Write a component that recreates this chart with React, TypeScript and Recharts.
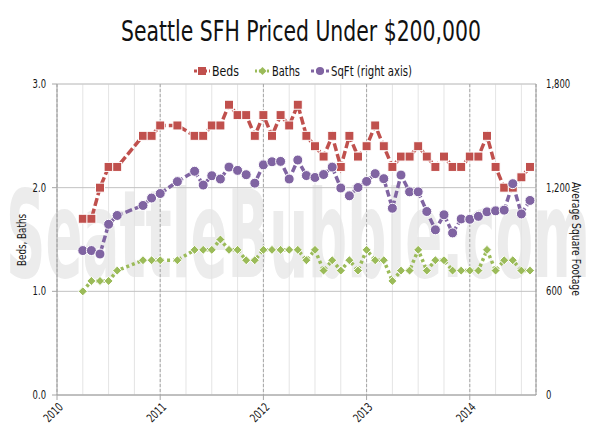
import React from 'react';
import { LineChart, Line, XAxis, YAxis, CartesianGrid } from 'recharts';

// months counted from Jan 2010 (0 = Jan 2010)
const months = [
  3, 4, 5, 6, 7, 10, 11,
  12, 14, 16, 17, 18, 19, 20, 21, 22, 23,
  24, 25, 26, 27, 28, 29, 30, 31, 32, 33, 34, 35,
  36, 37, 38, 39, 40, 41, 42, 43, 44, 45, 46, 47,
  48, 49, 50, 51, 52, 53, 54, 55,
];

const beds = [
  1.7, 1.7, 2.0, 2.2, 2.2, 2.5, 2.5,
  2.6, 2.6, 2.5, 2.5, 2.6, 2.6, 2.8, 2.7, 2.7, 2.5,
  2.7, 2.5, 2.7, 2.6, 2.8, 2.5, 2.4, 2.3, 2.5, 2.2, 2.5, 2.3,
  2.4, 2.6, 2.4, 2.2, 2.3, 2.3, 2.4, 2.3, 2.2, 2.3, 2.2, 2.2,
  2.3, 2.3, 2.5, 2.2, 2.0, 2.0, 2.1, 2.2,
];

const baths = [
  1.0, 1.1, 1.1, 1.1, 1.2, 1.3, 1.3,
  1.3, 1.3, 1.4, 1.4, 1.4, 1.5, 1.4, 1.4, 1.3, 1.3,
  1.4, 1.4, 1.4, 1.4, 1.4, 1.3, 1.4, 1.2, 1.3, 1.2, 1.3, 1.2,
  1.4, 1.3, 1.3, 1.1, 1.2, 1.2, 1.4, 1.2, 1.3, 1.3, 1.2, 1.2,
  1.2, 1.2, 1.4, 1.2, 1.3, 1.3, 1.2, 1.2,
];

const sqft = [
  836, 836, 816, 988, 1039, 1097, 1140,
  1166, 1235, 1295, 1215, 1269, 1250, 1319, 1300, 1275, 1226,
  1332, 1350, 1352, 1250, 1360, 1270, 1259, 1276, 1319, 1198, 1153, 1201,
  1236, 1281, 1252, 1081, 1273, 1176, 1176, 1062, 956, 1043, 938, 1019,
  1017, 1034, 1060, 1066, 1070, 1223, 1048, 1126,
];

const yearTicks = [0, 12, 24, 36, 48];
const quarterTicks = [0, 3, 6, 9, 12, 15, 18, 21, 24, 27, 30, 33, 36, 39, 42, 45, 48, 51, 54];
const leftTicks = [0, 1, 2, 3];
const minorTicks = [0, 0.25, 0.5, 0.75, 1, 1.25, 1.5, 1.75, 2, 2.25, 2.5, 2.75, 3];
const rightTicks = [0, 600, 1200, 1800];

const RED = '#c0504d';
const GREEN = '#9bbb59';
const PURPLE = '#8064a2';
const FONT = "'Liberation Sans Narrow', 'DejaVu Sans Condensed', 'Roboto', sans-serif";
const INK = '#161616';

const data = months.map((m, i) => ({ m, beds: beds[i], baths: baths[i], sqft: sqft[i] }));

// narrow-looking text width (the original uses a condensed face)
const narrowWidth = (s: string) =>
  s.split('').reduce((w, c) => w + (c === '.' || c === ',' ? 2.6 : 5.4), 0);

const SquareDot = (p: any) => {
  if (p.cx == null || p.cy == null) return <g key={p.key} />;
  return <rect key={p.key} x={p.cx - 4.5} y={p.cy - 4.5} width={9} height={9} fill={RED} stroke="#fff" strokeWidth={1} />;
};

const DiamondDot = (p: any) => {
  if (p.cx == null || p.cy == null) return <g key={p.key} />;
  const r = 4.5;
  return (
    <polygon
      key={p.key}
      points={`${p.cx},${p.cy - r} ${p.cx + r},${p.cy} ${p.cx},${p.cy + r} ${p.cx - r},${p.cy}`}
      fill={GREEN}
      stroke="#fff"
      strokeWidth={1}
    />
  );
};

const CircleDot = (p: any) => {
  if (p.cx == null || p.cy == null) return <g key={p.key} />;
  return <circle key={p.key} cx={p.cx} cy={p.cy} r={5} fill={PURPLE} stroke="#fff" strokeWidth={1} />;
};

const YearTick = ({ x, y, payload }: any) => {
  const label = String(2010 + payload.value / 12);
  const len = narrowWidth(label);
  const ax = x + 4;
  const ay = y + 3;
  return (
    <text
      x={ax - len}
      y={ay}
      transform={`rotate(-45, ${ax}, ${ay})`}
      textLength={len}
      lengthAdjust="spacingAndGlyphs"
      dominantBaseline="central"
      fontFamily={FONT}
      fontSize={12}
      fill={INK}
    >
      {label}
    </text>
  );
};

const LeftTick = ({ x, y, payload }: any) => {
  const label = Number(payload.value).toFixed(1);
  const len = narrowWidth(label);
  return (
    <text x={x - len} y={y} textLength={len} lengthAdjust="spacingAndGlyphs" dominantBaseline="central"
      fontFamily={FONT} fontSize={12} fill={INK}>
      {label}
    </text>
  );
};

const RightTick = ({ x, y, payload }: any) => {
  const label = Number(payload.value).toLocaleString('en-US');
  const len = narrowWidth(label);
  return (
    <text x={x} y={y} textLength={len} lengthAdjust="spacingAndGlyphs" dominantBaseline="central"
      fontFamily={FONT} fontSize={12} fill={INK}>
      {label}
    </text>
  );
};

export default function App() {
  return (
    <div style={{ position: 'absolute', left: 0, top: 0, width: 600, height: 436, background: '#fff', overflow: 'hidden' }}>
      <svg width={600} height={436} style={{ position: 'absolute', left: 0, top: 0 }}>
        <text
          x={6}
          y={277}
          textLength={584}
          lengthAdjust="spacingAndGlyphs"
          fontFamily={FONT}
          fontWeight="bold"
          fontSize={122}
          fill="#ececec"
        >
          SeattleBubble.com
        </text>
      </svg>
      <div style={{ position: 'absolute', left: 0, top: 0 }}>
        <LineChart width={600} height={436} data={data} margin={{ top: 84, right: 0, bottom: 0, left: 0 }}>
          <XAxis xAxisId="q" dataKey="m" type="number" domain={[0, 55.7]} ticks={quarterTicks} hide />
          <YAxis yAxisId="minor" type="number" domain={[0, 3]} ticks={minorTicks} hide />
          <CartesianGrid xAxisId="q" yAxisId="minor" stroke="#e4e4e4" strokeWidth={1} />
          <CartesianGrid xAxisId="main" yAxisId="left" vertical={false} stroke="#c2c2c2" strokeWidth={1} />
          <CartesianGrid xAxisId="main" yAxisId="left" horizontal={false} stroke="#a6a6a6" strokeDasharray="3 2" strokeWidth={1} />
          <XAxis
            xAxisId="main"
            dataKey="m"
            type="number"
            domain={[0, 55.7]}
            ticks={yearTicks}
            height={41}
            tickSize={5}
            tickMargin={2}
            axisLine={{ stroke: '#a6a6a6' }}
            tickLine={{ stroke: '#a6a6a6' }}
            tick={<YearTick />}
            interval={0}
          />
          <YAxis
            yAxisId="left"
            orientation="left"
            type="number"
            domain={[0, 3]}
            ticks={leftTicks}
            width={57}
            tickSize={5}
            tickMargin={6}
            axisLine={{ stroke: '#a6a6a6' }}
            tickLine={{ stroke: '#a6a6a6' }}
            tick={<LeftTick />}
            interval={0}
          />
          <YAxis
            yAxisId="right"
            orientation="right"
            type="number"
            domain={[0, 1800]}
            ticks={rightTicks}
            width={64}
            tickSize={0}
            tickMargin={10}
            axisLine={{ stroke: '#a6a6a6' }}
            tickLine={false}
            tick={<RightTick />}
            interval={0}
          />
          <Line
            xAxisId="main"
            yAxisId="left"
            dataKey="beds"
            stroke={RED}
            strokeWidth={3.5}
            strokeDasharray="8 3"
            dot={SquareDot}
            activeDot={false}
            isAnimationActive={false}
          />
          <Line
            xAxisId="main"
            yAxisId="left"
            dataKey="baths"
            stroke={GREEN}
            strokeWidth={3.5}
            strokeDasharray="3 3"
            dot={DiamondDot}
            activeDot={false}
            isAnimationActive={false}
          />
          <Line
            xAxisId="main"
            yAxisId="right"
            dataKey="sqft"
            stroke={PURPLE}
            strokeWidth={3.5}
            strokeDasharray="7 3"
            dot={CircleDot}
            activeDot={false}
            isAnimationActive={false}
          />
        </LineChart>
      </div>
      <svg width={600} height={436} style={{ position: 'absolute', left: 0, top: 0, pointerEvents: 'none' }}>
        <text x={121} y={41} textLength={360} lengthAdjust="spacingAndGlyphs" fontFamily={FONT} fontSize={29} fill="#111">
          Seattle SFH Priced Under $200,000
        </text>
        <g>
          <line x1={194} y1={71} x2={210} y2={71} stroke={RED} strokeWidth={3} strokeDasharray="3 2" />
          <rect x={198} y={67} width={8} height={8} fill={RED} />
          <text x={212} y={76} textLength={27} lengthAdjust="spacingAndGlyphs" fontFamily={FONT} fontSize={14} fill="#111">Beds</text>
          <line x1={255} y1={71} x2={270} y2={71} stroke={GREEN} strokeWidth={3} strokeDasharray="2 2" />
          <polygon points="262.5,67 266.5,71 262.5,75 258.5,71" fill={GREEN} />
          <text x={272} y={76} textLength={28} lengthAdjust="spacingAndGlyphs" fontFamily={FONT} fontSize={14} fill="#111">Baths</text>
          <line x1={311} y1={71} x2={329} y2={71} stroke={PURPLE} strokeWidth={3} strokeDasharray="3 2" />
          <circle cx={320} cy={71} r={4} fill={PURPLE} />
          <text x={331} y={76} textLength={81} lengthAdjust="spacingAndGlyphs" fontFamily={FONT} fontSize={14} fill="#111">SqFt (right axis)</text>
        </g>
        <text
          x={-266}
          y={26}
          transform="rotate(-90)"
          textLength={52}
          lengthAdjust="spacingAndGlyphs"
          fontFamily={FONT}
          fontSize={12}
          fill={INK}
        >
          Beds, Baths
        </text>
        <text
          x={182}
          y={-572}
          transform="rotate(90)"
          textLength={114}
          lengthAdjust="spacingAndGlyphs"
          fontFamily={FONT}
          fontSize={12}
          fill={INK}
        >
          Average Square Footage
        </text>
      </svg>
    </div>
  );
}
